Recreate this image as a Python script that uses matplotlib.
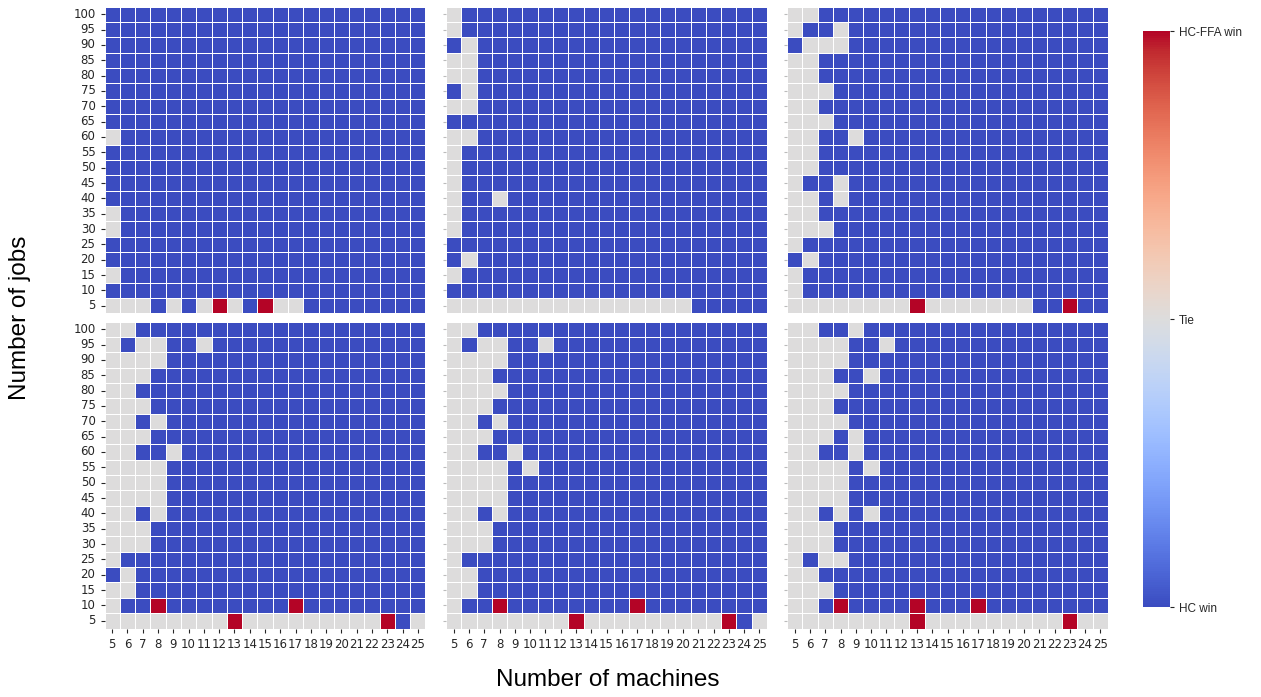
import matplotlib.pyplot as plt
import numpy as np
import seaborn as sns

# rows run from 100 jobs (top) down to 5 jobs, columns are machines 5..25
# B = HC win, T = tie, R = HC-FFA win  (spaces only group the columns by five)
machines = list(range(5, 26))
jobs = list(range(100, 0, -5))

panel_tl = [
    "BBBBB BBBBB BBBBB BBBBB B",  # 100
    "BBBBB BBBBB BBBBB BBBBB B",  # 95
    "BBBBB BBBBB BBBBB BBBBB B",  # 90
    "BBBBB BBBBB BBBBB BBBBB B",  # 85
    "BBBBB BBBBB BBBBB BBBBB B",  # 80
    "BBBBB BBBBB BBBBB BBBBB B",  # 75
    "BBBBB BBBBB BBBBB BBBBB B",  # 70
    "BBBBB BBBBB BBBBB BBBBB B",  # 65
    "TBBBB BBBBB BBBBB BBBBB B",  # 60
    "BBBBB BBBBB BBBBB BBBBB B",  # 55
    "BBBBB BBBBB BBBBB BBBBB B",  # 50
    "BBBBB BBBBB BBBBB BBBBB B",  # 45
    "BBBBB BBBBB BBBBB BBBBB B",  # 40
    "TBBBB BBBBB BBBBB BBBBB B",  # 35
    "TBBBB BBBBB BBBBB BBBBB B",  # 30
    "BBBBB BBBBB BBBBB BBBBB B",  # 25
    "BBBBB BBBBB BBBBB BBBBB B",  # 20
    "TBBBB BBBBB BBBBB BBBBB B",  # 15
    "BBBBB BBBBB BBBBB BBBBB B",  # 10
    "TTTBT BTRTB RTTBB BBBBB B",  # 5
]

panel_tm = [
    "TBBBB BBBBB BBBBB BBBBB B",
    "TBBBB BBBBB BBBBB BBBBB B",
    "BTBBB BBBBB BBBBB BBBBB B",
    "TTBBB BBBBB BBBBB BBBBB B",
    "TTBBB BBBBB BBBBB BBBBB B",
    "BTBBB BBBBB BBBBB BBBBB B",
    "TTBBB BBBBB BBBBB BBBBB B",
    "BBBBB BBBBB BBBBB BBBBB B",
    "TTBBB BBBBB BBBBB BBBBB B",
    "TBBBB BBBBB BBBBB BBBBB B",
    "TBBBB BBBBB BBBBB BBBBB B",
    "TBBBB BBBBB BBBBB BBBBB B",
    "TBBTB BBBBB BBBBB BBBBB B",
    "TBBBB BBBBB BBBBB BBBBB B",
    "TBBBB BBBBB BBBBB BBBBB B",
    "BBBBB BBBBB BBBBB BBBBB B",
    "BTBBB BBBBB BBBBB BBBBB B",
    "TBBBB BBBBB BBBBB BBBBB B",
    "BBBBB BBBBB BBBBB BBBBB B",
    "TTTTT TTTTT TTTTT TBBBB B",
]

panel_tr = [
    "TTBBB BBBBB BBBBB BBBBB B",
    "TBBTB BBBBB BBBBB BBBBB B",
    "BTTTB BBBBB BBBBB BBBBB B",
    "TTBBB BBBBB BBBBB BBBBB B",
    "TTBBB BBBBB BBBBB BBBBB B",
    "TTTBB BBBBB BBBBB BBBBB B",
    "TTBBB BBBBB BBBBB BBBBB B",
    "TTTBB BBBBB BBBBB BBBBB B",
    "TTBBT BBBBB BBBBB BBBBB B",
    "TTBBB BBBBB BBBBB BBBBB B",
    "TTBBB BBBBB BBBBB BBBBB B",
    "TBBTB BBBBB BBBBB BBBBB B",
    "TTBTB BBBBB BBBBB BBBBB B",
    "TTBBB BBBBB BBBBB BBBBB B",
    "TTTBB BBBBB BBBBB BBBBB B",
    "TBBBB BBBBB BBBBB BBBBB B",
    "BTBBB BBBBB BBBBB BBBBB B",
    "TBBBB BBBBB BBBBB BBBBB B",
    "TBBBB BBBBB BBBBB BBBBB B",
    "TTTTT TTTRT TTTTT TBBRB B",
]

panel_bl = [
    "TTBBB BBBBB BBBBB BBBBB B",
    "TBTTB BTBBB BBBBB BBBBB B",
    "TTTTB BBBBB BBBBB BBBBB B",
    "TTTBB BBBBB BBBBB BBBBB B",
    "TTBBB BBBBB BBBBB BBBBB B",
    "TTTBB BBBBB BBBBB BBBBB B",
    "TTBTB BBBBB BBBBB BBBBB B",
    "TTTBB BBBBB BBBBB BBBBB B",
    "TTBBT BBBBB BBBBB BBBBB B",
    "TTTTB BBBBB BBBBB BBBBB B",
    "TTTTB BBBBB BBBBB BBBBB B",
    "TTTTB BBBBB BBBBB BBBBB B",
    "TTBTB BBBBB BBBBB BBBBB B",
    "TTTBB BBBBB BBBBB BBBBB B",
    "TTTBB BBBBB BBBBB BBBBB B",
    "TBBBB BBBBB BBBBB BBBBB B",
    "BTBBB BBBBB BBBBB BBBBB B",
    "TTBBB BBBBB BBBBB BBBBB B",
    "TBBRB BBBBB BBRBB BBBBB B",
    "TTTTT TTTRT TTTTT TTTRB T",
]

panel_bm = [
    "TTBBB BBBBB BBBBB BBBBB B",
    "TBTTB BTBBB BBBBB BBBBB B",
    "TTTTB BBBBB BBBBB BBBBB B",
    "TTTBB BBBBB BBBBB BBBBB B",
    "TTTTB BBBBB BBBBB BBBBB B",
    "TTTBB BBBBB BBBBB BBBBB B",
    "TTBTB BBBBB BBBBB BBBBB B",
    "TTTBB BBBBB BBBBB BBBBB B",
    "TTBBT BBBBB BBBBB BBBBB B",
    "TTTTB TBBBB BBBBB BBBBB B",
    "TTTTB BBBBB BBBBB BBBBB B",
    "TTTTB BBBBB BBBBB BBBBB B",
    "TTBTB BBBBB BBBBB BBBBB B",
    "TTTBB BBBBB BBBBB BBBBB B",
    "TTTBB BBBBB BBBBB BBBBB B",
    "TBBBB BBBBB BBBBB BBBBB B",
    "TTBBB BBBBB BBBBB BBBBB B",
    "TTBBB BBBBB BBBBB BBBBB B",
    "TBBRB BBBBB BBRBB BBBBB B",
    "TTTTT TTTRT TTTTT TTTRB T",
]

panel_br = [
    "TTBBT BBBBB BBBBB BBBBB B",
    "TTTTB BTBBB BBBBB BBBBB B",
    "TTTTB BBBBB BBBBB BBBBB B",
    "TTTBB TBBBB BBBBB BBBBB B",
    "TTTTB BBBBB BBBBB BBBBB B",
    "TTTBB BBBBB BBBBB BBBBB B",
    "TTTTB BBBBB BBBBB BBBBB B",
    "TTTBT BBBBB BBBBB BBBBB B",
    "TTBBT BBBBB BBBBB BBBBB B",
    "TTTTB TBBBB BBBBB BBBBB B",
    "TTTTB BBBBB BBBBB BBBBB B",
    "TTTTB BBBBB BBBBB BBBBB B",
    "TTBTB TBBBB BBBBB BBBBB B",
    "TTTBB BBBBB BBBBB BBBBB B",
    "TTTBB BBBBB BBBBB BBBBB B",
    "TBTTB BBBBB BBBBB BBBBB B",
    "TTBBB BBBBB BBBBB BBBBB B",
    "TTTBB BBBBB BBBBB BBBBB B",
    "TTBRB BBBRB BBRBB BBBBB B",
    "TTTTT TTTRT TTTTT TTTRT T",
]

code = {"B": -1, "T": 0, "R": 1}


def to_grid(rows):
    return np.array([[code[c] for c in r.replace(" ", "")] for r in rows])


panels = [panel_tl, panel_tm, panel_tr, panel_bl, panel_bm, panel_br]

W, H = 1261, 697
fig = plt.figure(figsize=(W / 100, H / 100), dpi=100)

lefts = [104.5, 446, 787]
tops = [6.5, 321.5]
pw, ph = 321, 307

for i, rows in enumerate(panels):
    r, c = divmod(i, 3)
    ax = fig.add_axes([lefts[c] / W, 1 - (tops[r] + ph) / H, pw / W, ph / H])
    sns.heatmap(to_grid(rows), ax=ax, cmap="coolwarm", vmin=-1, vmax=1,
                linewidths=0.7, linecolor="white", cbar=False,
                xticklabels=machines, yticklabels=jobs)
    ax.tick_params(axis="both", labelsize=8.5, colors="#262626", length=3, width=0.8)
    ax.set_yticklabels(jobs, rotation=0, fontsize=8.5)
    if r == 1:
        ax.set_xticklabels(machines, rotation=0, fontsize=8.5)
    else:
        ax.set_xticks([])
    if c != 0:
        ax.tick_params(axis="y", labelleft=False, length=2, colors="#bbbbbb")

cax = fig.add_axes([1143 / W, 1 - 607 / H, 27 / W, 576 / H])
sm = plt.cm.ScalarMappable(cmap="coolwarm", norm=plt.Normalize(-1, 1))
cb = fig.colorbar(sm, cax=cax, ticks=[-1, 0, 1])
cb.outline.set_linewidth(0)
cb.ax.set_yticklabels(["HC win", "Tie", "HC-FFA win"], family="Liberation Sans", fontsize=8.5)
cb.ax.tick_params(length=3, width=0.8, colors="#262626")

fig.text(608 / W, 1 - 680 / H, "Number of machines", ha="center", va="center",
         fontsize=17.5, family="Liberation Sans")
fig.text(20 / W, 1 - 318 / H, "Number of jobs", ha="center", va="center",
         rotation=90, fontsize=17.5, family="Liberation Sans")

fig.savefig("out.png", dpi=100)
